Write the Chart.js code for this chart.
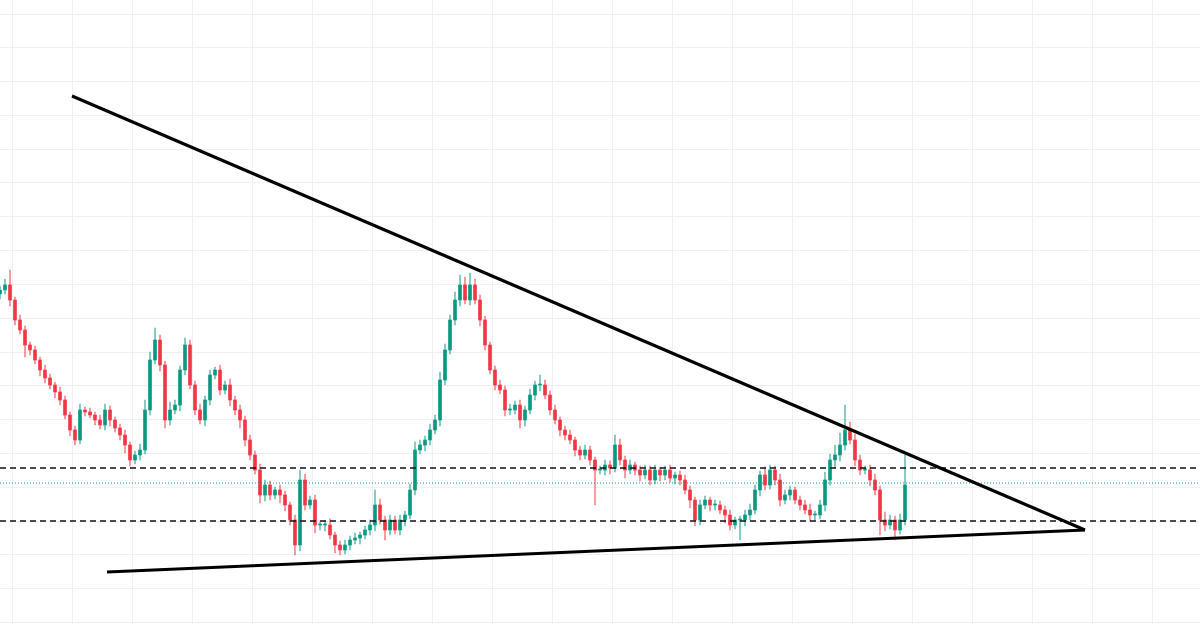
<!DOCTYPE html>
<html><head><meta charset="utf-8">
<script src="https://cdn.jsdelivr.net/npm/chart.js@4"></script>
<style>html,body{margin:0;padding:0;background:#fff}#w{width:1200px;height:624px}</style>
</head><body><div id="w"><canvas id="c"></canvas></div>
<script>
// closing prices per candle (index = time step)
const closes=[334,339,324,304,294,279,274,264,254,246,
239,232,224,209,194,184,214,212,209,204,
199,214,204,196,189,179,164,169,174,214,
264,284,259,204,214,219,254,279,239,214,
204,224,249,254,234,239,224,214,204,184,
169,154,129,139,129,134,129,119,104,79,
144,119,124,99,99,99,89,79,74,79,
84,86,89,94,99,119,104,94,104,94,
104,109,134,174,179,184,194,204,244,274,
304,324,339,324,339,324,304,279,254,239,
234,214,214,219,204,214,229,239,239,229,
214,204,194,189,184,174,169,174,164,154,
154,159,156,179,164,154,159,154,149,154,
144,154,149,154,146,149,144,134,124,104,
119,124,119,119,114,109,99,104,104,109,
114,134,149,139,154,144,124,129,134,124,
119,114,109,109,119,144,164,169,179,194,
184,164,154,154,144,134,104,99,104,94,
104,139];
const firstOpen=330;
// upper / lower wick lengths
const upperWicks=[4,6,15,3,5,4,3,4,3,5,
4,3,5,4,3,4,6,3,4,3,
5,6,4,3,4,5,3,4,6,10,
8,12,5,4,8,5,4,7,5,4,
6,4,5,3,5,4,6,4,5,4,
5,4,6,5,4,3,5,4,3,5,
10,6,4,5,3,4,6,3,4,5,
4,5,3,4,5,15,6,4,5,4,
5,4,6,8,5,4,6,5,8,6,
5,8,10,8,12,6,5,4,3,4,
5,4,6,4,5,4,6,4,10,5,
4,5,3,4,5,3,4,5,4,3,
4,5,4,10,6,4,5,3,4,5,
4,5,3,4,5,3,4,5,4,3,
5,4,3,5,4,4,5,3,4,5,
6,5,4,8,5,4,6,5,4,3,
4,5,6,4,5,8,6,10,12,25,
8,6,5,4,5,6,4,8,5,4,
6,30];
const lowerWicks=[5,4,6,5,4,12,5,4,6,5,
4,6,5,4,6,5,4,4,3,5,
4,5,6,4,5,8,6,4,5,4,
5,4,6,8,5,4,6,5,4,5,
4,6,5,4,5,4,6,5,8,6,
5,4,8,6,5,4,8,6,5,10,
6,5,4,8,5,6,4,8,5,4,
5,4,6,4,5,6,4,10,5,4,
5,6,4,5,4,6,5,4,6,5,
4,5,6,4,5,4,6,5,4,5,
4,6,5,4,8,6,4,5,6,4,
5,4,6,5,4,6,5,4,5,35,
4,5,6,4,5,8,4,5,6,4,
5,4,6,5,4,6,5,4,8,6,
5,4,6,5,4,8,5,4,20,6,
5,4,6,5,4,5,6,4,5,4,
5,4,6,5,4,6,5,8,6,5,
4,6,5,4,6,5,15,6,4,10,
4,5];
const upperTrend=[{x:14.4,y:528},{x:217,y:94}];
const lowerTrend=[{x:21.4,y:52},{x:217,y:94}];
const resistance=156, support=103, lastPrice=141;

const G='#089981',R='#f23645',GL='rgba(8,153,129,0.6)',RL='rgba(242,54,69,0.6)';
const bodies=[],wicks=[],bc=[],wc=[];
closes.forEach((c,i)=>{
  const o=i===0?firstOpen:closes[i-1];
  const up=c>=o;
  const top=Math.max(o,c),bot=Math.min(o,c);
  bodies.push({x:i,y:[bot,top===bot?top+1:top]});
  wicks.push({x:i,y:[bot-lowerWicks[i],top+upperWicks[i]]});
  bc.push(up?G:R);wc.push(up?GL:RL);
});
const hl=(v)=>[{x:0,y:v},{x:240,y:v}];
new Chart(document.getElementById('c'),{
  data:{datasets:[
    {type:'bar',data:wicks,backgroundColor:wc,barThickness:1,grouped:false,order:3},
    {type:'bar',data:bodies,backgroundColor:bc,barThickness:3,grouped:false,order:2},
    {type:'line',data:hl(resistance),borderColor:'#111',borderWidth:1.3,borderDash:[6,4],pointRadius:0,order:1},
    {type:'line',data:hl(support),borderColor:'#111',borderWidth:1.3,borderDash:[6,4],pointRadius:0,order:1},
    {type:'line',data:hl(lastPrice),borderColor:'#089981',borderWidth:1,borderDash:[1,2],pointRadius:0,order:1},
    {type:'line',data:upperTrend,borderColor:'#000',borderWidth:3,pointRadius:0,order:0},
    {type:'line',data:lowerTrend,borderColor:'#000',borderWidth:3,pointRadius:0,order:0}
  ]},
  options:{responsive:true,maintainAspectRatio:false,animation:false,
    layout:{padding:0},
    plugins:{legend:{display:false},tooltip:{enabled:false}},
    scales:{
      x:{type:'linear',min:0,max:240,offset:false,border:{display:false},ticks:{display:false},
         grid:{color:'#eef0f3',drawTicks:false,offset:false},
         afterBuildTicks:s=>{const t=[];for(let v=2.4;v<240;v+=12)t.push({value:v});s.ticks=t;}},
      y:{type:'linear',min:0,max:624,border:{display:false},ticks:{display:false},
         grid:{color:'#eef0f3',drawTicks:false},
         afterBuildTicks:s=>{const t=[];for(let v=610;v>0;v-=33.8)t.push({value:v});s.ticks=t;}}
    }}
});
</script></body></html>
